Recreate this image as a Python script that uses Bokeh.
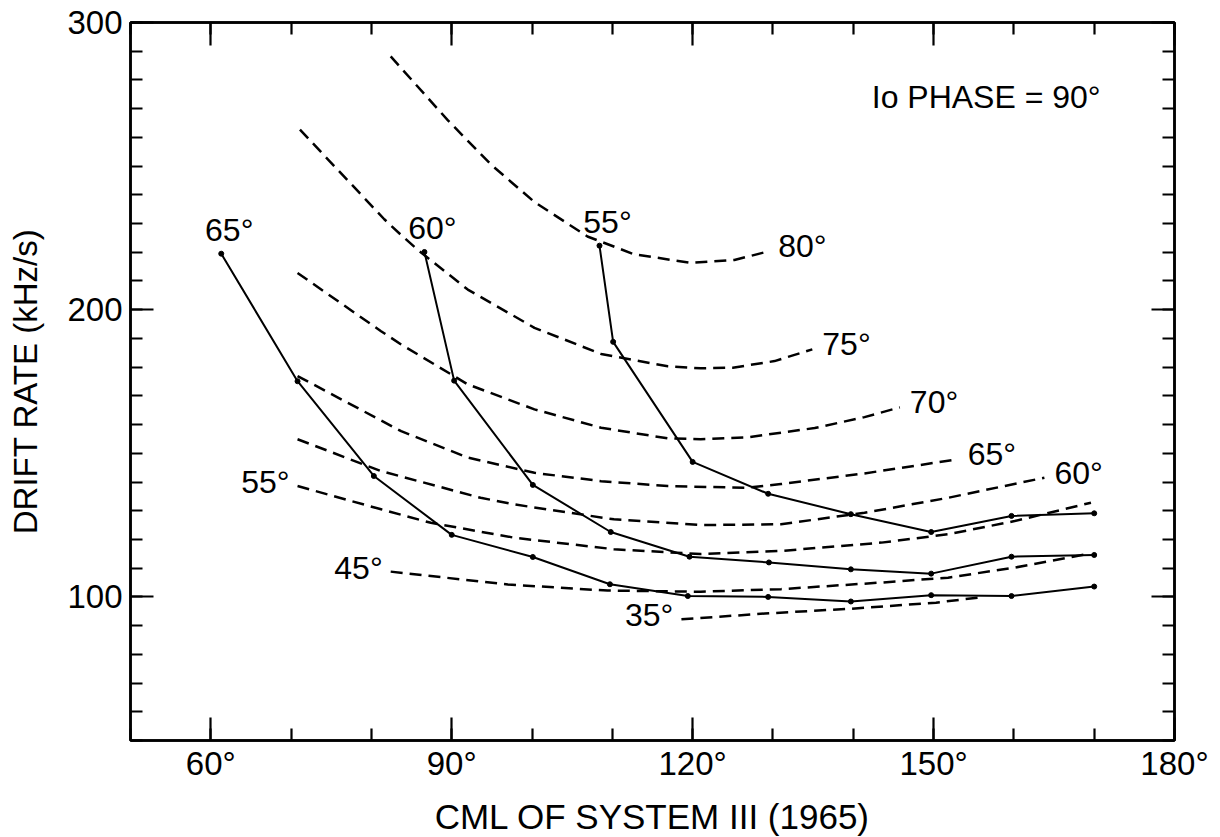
from bokeh.plotting import figure
from bokeh.models import Range1d, LinearAxis, FixedTicker, Label
from bokeh.embed import file_html
from bokeh.resources import INLINE

FONT = "Liberation Sans"

# ---- data (CML of System III in deg, drift rate in kHz/s) ----
# solid curves (each point marked with a dot)
solid_65_x = [61.3, 70.8, 80.3, 90.0, 100.1, 109.7, 119.4, 129.4, 139.7, 149.7, 159.7, 170.0]
solid_65_y = [219.5, 175.1, 142.1, 121.6, 113.9, 104.4, 100.3, 100.0, 98.4, 100.6, 100.3, 103.6]
solid_60_x = [86.6, 90.3, 100.1, 109.8, 119.6, 129.5, 139.7, 149.7, 159.7, 170.0]
solid_60_y = [220.1, 175.3, 139.0, 122.6, 114.0, 112.0, 109.6, 108.1, 114.0, 114.6]
solid_55_x = [108.4, 110.1, 120.0, 129.4, 139.7, 149.7, 159.7, 170.0]
solid_55_y = [222.3, 188.8, 147.0, 135.9, 128.8, 122.6, 128.2, 129.1]

# dashed curves
dash_80_x = [82.4, 89.5, 94.9, 100.3, 106.9, 112.7, 119.8, 125.2, 129.4]
dash_80_y = [288.2, 266.0, 250.5, 237.5, 225.5, 219.3, 216.3, 217.3, 220.3]
dash_75_x = [71.1, 81.6, 83.7, 85.7, 92.0, 100.3, 108.6, 116.9, 121.0, 125.0, 130.2, 134.9]
dash_75_y = [262.7, 231.5, 226.0, 221.0, 207.0, 193.7, 184.6, 180.3, 179.6, 179.8, 182.1, 186.2]
dash_70_x = [70.8, 81.2, 83.7, 92.0, 100.3, 108.6, 116.9, 121.0, 126.9, 135.2, 141.4, 145.8]
dash_70_y = [212.8, 192.5, 187.9, 174.0, 165.3, 158.9, 155.2, 154.9, 155.6, 158.8, 162.6, 166.0]
dash_65_x = [70.8, 83.7, 92.0, 100.3, 108.6, 116.9, 126.6, 131.0, 141.4, 153.0]
dash_65_y = [176.9, 157.7, 148.5, 143.2, 140.3, 138.6, 138.0, 139.3, 143.0, 147.9]
dash_60_x = [70.8, 81.2, 93.6, 97.8, 110.2, 121.0, 131.0, 141.4, 151.8, 163.8]
dash_60_y = [154.9, 143.8, 134.5, 132.2, 127.0, 125.0, 125.3, 129.3, 134.5, 141.5]
dash_55_x = [70.8, 81.2, 87.4, 97.8, 110.2, 121.0, 131.0, 143.5, 151.8, 160.1, 169.6]
dash_55_y = [138.6, 130.5, 125.8, 120.6, 116.6, 114.9, 116.0, 118.9, 121.8, 126.4, 132.8]
dash_45_x = [82.4, 97.0, 109.4, 121.0, 131.0, 143.5, 151.8, 160.1, 169.3]
dash_45_y = [108.8, 104.3, 102.2, 101.8, 102.7, 105.0, 106.7, 110.2, 115.0]
dash_35_x = [118.6, 129.0, 139.8, 150.3, 156.3]
dash_35_y = [92.2, 94.2, 95.9, 98.0, 100.0]

solid_curves = [("65°", solid_65_x, solid_65_y), ("60°", solid_60_x, solid_60_y),
                ("55°", solid_55_x, solid_55_y)]
dashed_right = [("80°", dash_80_x, dash_80_y), ("75°", dash_75_x, dash_75_y),
                ("70°", dash_70_x, dash_70_y), ("65°", dash_65_x, dash_65_y),
                ("60°", dash_60_x, dash_60_y)]
dashed_left = [("55°", dash_55_x, dash_55_y), ("45°", dash_45_x, dash_45_y),
               ("35°", dash_35_x, dash_35_y)]

x_major = [60, 90, 120, 150, 180]
x_labels = ["60°", "90°", "120°", "150°", "180°"]
y_major = [100, 200, 300]
y_labels = ["100", "200", "300"]
x_minor = list(range(50, 181, 10))
y_minor = list(range(50, 301, 10))

p = figure(frame_width=1044, frame_height=718,
           x_range=Range1d(50, 180), y_range=Range1d(50, 300),
           output_backend="svg", toolbar_location=None,
           min_border_left=130, min_border_right=40, min_border_top=22, min_border_bottom=60,
           background_fill_color="white", border_fill_color="white")
p.xgrid.grid_line_color = None
p.ygrid.grid_line_color = None
p.outline_line_color = "black"
p.outline_line_width = 2.5


def style_axis(ax, ticks, minor, labels, show_labels, fsize):
    ax.ticker = FixedTicker(ticks=ticks, minor_ticks=minor)
    ax.axis_line_color = "black"
    ax.axis_line_width = 2.5
    ax.major_tick_line_color = "black"
    ax.major_tick_line_width = 2.2
    ax.minor_tick_line_color = "black"
    ax.minor_tick_line_width = 2.2
    ax.major_tick_in = 23
    ax.major_tick_out = 0
    ax.minor_tick_in = 12
    ax.minor_tick_out = 0
    if show_labels:
        ax.major_label_overrides = {t: l for t, l in zip(ticks, labels)}
        ax.major_label_text_font = FONT
        ax.major_label_text_font_size = fsize
        ax.major_label_text_color = "black"
    else:
        ax.major_label_overrides = {t: "" for t in ticks}
        ax.major_label_text_font_size = "1px"
        ax.major_label_standoff = 0


xa = p.xaxis[0]
style_axis(xa, x_major, x_minor, x_labels, True, "33px")
xa.major_label_standoff = 4
xa.axis_label = "CML OF SYSTEM III (1965)"
xa.axis_label_text_font = FONT
xa.axis_label_text_font_size = "35px"
xa.axis_label_text_font_style = "normal"
xa.axis_label_text_color = "black"
xa.axis_label_standoff = 12

ya = p.yaxis[0]
style_axis(ya, y_major, y_minor, y_labels, True, "33px")
ya.major_label_standoff = 8
ya.axis_label = "DRIFT RATE (kHz/s)"
ya.axis_label_text_font = FONT
ya.axis_label_text_font_size = "33px"
ya.axis_label_text_font_style = "normal"
ya.axis_label_text_color = "black"
ya.axis_label_standoff = 20

top = LinearAxis()
style_axis(top, x_major, x_minor, x_labels, False, "1px")
p.add_layout(top, "above")
right = LinearAxis()
style_axis(right, y_major, y_minor, y_labels, False, "1px")
p.add_layout(right, "right")

# curves
for name, xs, ys in solid_curves:
    p.line(xs, ys, line_color="black", line_width=2.0, line_join="round")
    p.scatter(xs, ys, size=5, fill_color="black", line_color="black")
    p.add_layout(Label(x=xs[0], y=ys[0], text=name, x_offset=8, y_offset=24,
                       text_align="center", text_baseline="middle",
                       text_font=FONT, text_font_size="32px", text_color="black"))

for name, xs, ys in dashed_right:
    p.line(xs, ys, line_color="black", line_width=2.5, line_dash="12 7", line_join="round")
    p.add_layout(Label(x=xs[-1], y=ys[-1], text=name, x_offset=10, y_offset=5,
                       text_align="left", text_baseline="middle",
                       text_font=FONT, text_font_size="32px", text_color="black"))

for name, xs, ys in dashed_left:
    p.line(xs, ys, line_color="black", line_width=2.5, line_dash="12 7", line_join="round")
    p.add_layout(Label(x=xs[0], y=ys[0], text=name, x_offset=-8, y_offset=4,
                       text_align="right", text_baseline="middle",
                       text_font=FONT, text_font_size="32px", text_color="black"))

p.add_layout(Label(x=142.3, y=274, text="Io PHASE = 90°", text_align="left",
                   text_baseline="middle", text_font=FONT, text_font_size="32px",
                   text_color="black"))

open("out.html", "w").write(file_html(p, INLINE))
